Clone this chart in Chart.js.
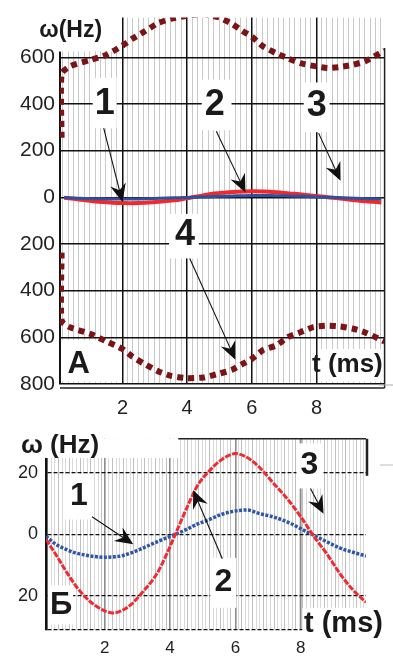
<!DOCTYPE html>
<html>
<head>
<meta charset="utf-8">
<script src="https://cdn.jsdelivr.net/npm/chart.js@4"></script>
<style>
  body { margin: 0; background: #fff; width: 393px; height: 659px; overflow: hidden; position: relative; }
  #wrapA { position: absolute; left: 0; top: 0; }
  #wrapB { position: absolute; left: 0; top: 420px; }
</style>
</head>
<body>
<div id="wrapA"><canvas id="chartA" width="393" height="420"></canvas></div>
<div id="wrapB"><canvas id="chartB" width="393" height="239"></canvas></div>
<script>
// time (ms) for curves 1-3
var times = [0.2, 0.5, 0.8, 1.1, 1.4, 1.7, 2.0, 2.25, 2.5, 2.8, 3.15, 3.6, 3.9, 4.2, 4.5, 4.85,
  5.15, 5.55, 6.0, 6.35, 6.75, 7.15, 7.6, 8.05, 8.4, 8.8, 9.2, 9.6, 10.0];
// curve 2 (red), Hz
var omegaRed = [-1.6, -6.5, -11.7, -16.5, -20.3, -23, -24.8, -25.5, -24.8, -22.8, -18.8, -12.7, -6.3, 1,
  8.3, 16, 20, 24, 26.2, 25, 21.6, 16.8, 11.4, 5, -0.6, -6.3, -12.7, -18, -22];
// curve 1 (blue), Hz
var omegaBlue = [-0.6, -3.2, -4.8, -6, -6.7, -7.2, -7.4, -7.3, -7, -6, -4.5, -2.4, -1.1, 0.2,
  1.6, 3.4, 4.6, 6.4, 7.6, 7.9, 6.7, 5.7, 4, 1.6, -0.3, -2.4, -4.4, -5.8, -7];
// curve 4 : envelope of the fast oscillation (panel A)
var envTimes = [0.12, 0.12, 0.4, 1.0, 1.5, 2.0, 2.3, 2.65, 3.1, 3.5, 4.0, 4.5, 5.0, 5.4, 5.7, 6.0,
  6.35, 6.75, 7.1, 7.5, 7.9, 8.35, 8.7, 9.1, 9.5, 10.1];
var envUpper = [255, 530, 563, 588, 610, 650, 679, 708, 746, 765, 778, 785, 770, 742, 713, 688,
  646, 617, 596, 575, 563, 554, 558, 567, 583, 629];
var envLower = [-237, -529, -558, -585, -617, -650, -682, -712, -745, -765, -775, -772, -755, -738, -715, -692,
  -654, -635, -600, -578, -556, -550, -553, -562, -579, -618];

var tickT = [2, 4, 6, 8];
var tickA = [-800, -600, -400, -200, 0, 200, 400, 600];
var tickB = [-31, -20, 0, 20];

var FONT = "'Liberation Sans', Arial, sans-serif";

function pts(xs, ys) {
  return xs.map(function (x, i) { return { x: x, y: ys[i] }; });
}
function isMajor(v) { return tickT.indexOf(v) >= 0; }
function gridTicks(scale, step) {
  var list = tickT.map(function (v) { return { value: v }; });
  for (var v = scale.min + step / 2; v < scale.max; v += step) {
    if (tickT.every(function (m) { return Math.abs(m - v) > step / 3; })) list.push({ value: v });
  }
  list.sort(function (a, b) { return a.value - b.value; });
  scale.ticks = list;
}

function drawArrow(ctx, x1, y1, x2, y2) {
  var a = Math.atan2(y2 - y1, x2 - x1);
  ctx.save();
  ctx.strokeStyle = '#111';
  ctx.fillStyle = '#111';
  ctx.lineWidth = 1.1;
  ctx.beginPath();
  ctx.moveTo(x1, y1);
  ctx.lineTo(x2 - 10 * Math.cos(a), y2 - 10 * Math.sin(a));
  ctx.stroke();
  ctx.translate(x2, y2);
  ctx.rotate(a);
  ctx.beginPath();
  ctx.moveTo(0, 0);
  ctx.lineTo(-18, -8);
  ctx.lineTo(-12, 0);
  ctx.lineTo(-18, 8);
  ctx.closePath();
  ctx.fill();
  ctx.restore();
}

// labels, white boxes and arrows, placed in data units
function notesPlugin(notes, frame) {
  return {
    id: 'notes',
    beforeDatasetsDraw: function (chart) {
      var ctx = chart.ctx, x = chart.scales.x, y = chart.scales.y;
      ctx.save();
      ctx.fillStyle = '#fff';
      notes.forEach(function (n) {
        if (!n.box) return;
        var x0 = x.getPixelForValue(n.box[0]), x1 = x.getPixelForValue(n.box[1]);
        var y0 = y.getPixelForValue(n.box[2]), y1 = y.getPixelForValue(n.box[3]);
        ctx.fillRect(x0, y0, x1 - x0, y1 - y0);
      });
      ctx.restore();
    },
    afterDraw: function (chart) {
      var ctx = chart.ctx, x = chart.scales.x, y = chart.scales.y;
      frame(chart);
      ctx.save();
      ctx.fillStyle = '#1a1a1a';
      ctx.textAlign = 'center';
      ctx.textBaseline = 'middle';
      notes.forEach(function (n) {
        ctx.font = 'bold ' + n.size + 'px ' + FONT;
        ctx.fillText(n.text, x.getPixelForValue(n.t), y.getPixelForValue(n.w));
        if (n.arrow) {
          drawArrow(ctx, x.getPixelForValue(n.arrow[0]), y.getPixelForValue(n.arrow[1]),
            x.getPixelForValue(n.arrow[2]), y.getPixelForValue(n.arrow[3]));
        }
      });
      ctx.restore();
    }
  };
}

var notesA = [
  { text: 'ω(Hz)', t: 0.4, w: 712, size: 23, box: [0.07, 1.85, 771, 625] },
  { text: '1', t: 1.45, w: 400, size: 36, box: [1.08, 1.82, 512, 296], arrow: [1.42, 296, 2.0, -20] },
  { text: '2', t: 4.85, w: 395, size: 36, box: [4.45, 5.37, 504, 287], arrow: [4.9, 283, 5.8, 21] },
  { text: '3', t: 8.0, w: 390, size: 36, box: [7.6, 8.4, 492, 279], arrow: [8.06, 275, 8.74, 71] },
  { text: '4', t: 3.93, w: -160, size: 36, box: [3.44, 4.36, -71, -262], arrow: [4.08, -262, 5.49, -696] },
  { text: 'А', t: 0.65, w: -717, size: 31, box: [0.1, 1.95, -612, -790] },
  { text: 't (ms)', t: 8.95, w: -717, size: 26, box: [8.06, 10.1, -650, -790] }
];

var notesB = [
  { text: 'ω (Hz)', t: 0.63, w: 28.6, size: 26, box: [0.2, 4.25, 31, 24.8] },
  { text: '1', t: 1.21, w: 12.4, size: 32, box: [0.78, 1.64, 19.6, 4.8], arrow: [1.61, 5.7, 2.87, -3.2] },
  { text: '2', t: 5.63, w: -15.6, size: 32, box: [5.23, 6.03, -7.6, -23.8], arrow: [5.6, -7.9, 4.71, 14.3] },
  { text: '3', t: 8.27, w: 22.5, size: 32, box: [7.87, 8.67, 29.5, 14.9], arrow: [8.3, 14.9, 8.7, 6.7] },
  { text: 'Б', t: 0.66, w: -22.9, size: 31, box: [0.26, 1.03, -16.5, -29.2] },
  { text: 't (ms)', t: 9.31, w: -29.2, size: 29, box: [8.05, 10.63, -23.8, -34.6] }
];

// panel A
new Chart(document.getElementById('chartA'), {
  type: 'line',
  data: {
    datasets: [
      { label: '4', data: pts(envTimes, envUpper), borderColor: '#7a1416', borderWidth: 6,
        borderDash: [6, 5], borderCapStyle: 'butt', pointRadius: 0, tension: 0.2, order: 0 },
      { label: '4', data: pts(envTimes, envLower), borderColor: '#7a1416', borderWidth: 6,
        borderDash: [6, 5], borderCapStyle: 'butt', pointRadius: 0, tension: 0.2, order: 0 },
      { label: '1', data: pts(times, omegaBlue), borderColor: '#2f4f9f', borderWidth: 3,
        pointRadius: 0, tension: 0.4, order: 1 },
      { label: '2', data: pts(times, omegaRed), borderColor: '#ef2a2e', borderWidth: 4,
        pointRadius: 0, tension: 0.4, order: 2 }
    ]
  },
  options: {
    responsive: false,
    animation: false,
    events: [],
    layout: { padding: { top: 8, right: 6, left: 0, bottom: 0 } },
    plugins: { legend: { display: false }, tooltip: { enabled: false } },
    scales: {
      x: {
        type: 'linear', min: 0.07, max: 10.1,
        afterFit: function (s) { s.height = 36; },
        afterBuildTicks: function (s) { gridTicks(s, 1 / 6); },
        ticks: {
          autoSkip: false, maxRotation: 0, padding: 12, color: '#222',
          font: { size: 20, family: FONT },
          callback: function (v) { return isMajor(v) ? String(v) : ''; }
        },
        grid: {
          drawTicks: false,
          color: function (c) { return c.tick && isMajor(c.tick.value) ? '#111' : 'rgba(165,165,165,0.6)'; },
          lineWidth: function (c) { return c.tick && isMajor(c.tick.value) ? 1.5 : 1; }
        },
        border: { display: false }
      },
      y: {
        min: -800, max: 770,
        afterFit: function (s) { s.width = 60; },
        afterBuildTicks: function (s) { s.ticks = tickA.map(function (v) { return { value: v }; }); },
        ticks: {
          padding: 5, color: '#222', font: { size: 21, family: FONT },
          callback: function (v) { return String(Math.abs(v)); }
        },
        grid: { drawTicks: false, color: '#111', lineWidth: 1.5 },
        border: { color: '#111', width: 2 }
      }
    }
  },
  plugins: [notesPlugin(notesA, function (chart) {
    var ctx = chart.ctx, a = chart.chartArea, y = chart.scales.y;
    ctx.save();
    ctx.fillStyle = '#fff';
    ctx.fillRect(a.left - 2, a.top - 8, 4, y.getPixelForValue(625) - a.top + 8);
    ctx.strokeStyle = '#222';
    ctx.lineWidth = 1.5;
    ctx.beginPath();
    ctx.moveTo(a.right, y.getPixelForValue(640));
    ctx.lineTo(a.right, a.bottom + 4);
    ctx.moveTo(a.left, a.bottom + 4);
    ctx.lineTo(a.right, a.bottom + 4);
    ctx.stroke();
    ctx.strokeStyle = '#aaa';
    ctx.lineWidth = 1;
    ctx.beginPath();
    ctx.moveTo(a.right - 6, a.bottom + 1);
    ctx.lineTo(393, a.bottom + 1);
    ctx.stroke();
    ctx.restore();
  })]
});

// panel Б
new Chart(document.getElementById('chartB'), {
  type: 'line',
  data: {
    datasets: [
      { label: '1', data: pts(times, omegaBlue), borderColor: '#2f55a8', borderWidth: 3.5,
        borderDash: [3, 1.5], pointRadius: 0, cubicInterpolationMode: 'monotone', order: 1 },
      { label: '2', data: pts(times, omegaRed), borderColor: '#ef2a31', borderWidth: 3,
        borderDash: [6, 1.5], pointRadius: 0, cubicInterpolationMode: 'monotone', order: 0 }
    ]
  },
  options: {
    responsive: false,
    animation: false,
    events: [],
    layout: { padding: { top: 16, right: 27, left: 0, bottom: 0 } },
    plugins: { legend: { display: false }, tooltip: { enabled: false } },
    scales: {
      x: {
        type: 'linear', min: 0.2, max: 10.0,
        afterFit: function (s) { s.height = 29; },
        afterBuildTicks: function (s) { gridTicks(s, 0.11); },
        ticks: {
          autoSkip: false, maxRotation: 0, padding: 8, color: '#222',
          font: { size: 17, family: FONT },
          callback: function (v) { return isMajor(v) ? String(v) : ''; }
        },
        grid: {
          drawTicks: false,
          color: function (c) {
            if (c.tick && isMajor(c.tick.value)) return '#8c8c8c';
            return c.index % 3 === 0 ? 'rgba(140,140,140,0.55)' : 'rgba(185,185,185,0.55)';
          },
          lineWidth: function (c) { return c.tick && isMajor(c.tick.value) ? 1.6 : 1; }
        },
        border: { display: false }
      },
      y: {
        min: -31, max: 31,
        afterFit: function (s) { s.width = 46; },
        afterBuildTicks: function (s) { s.ticks = tickB.map(function (v) { return { value: v }; }); },
        ticks: {
          padding: 8, color: '#222', font: { size: 18, family: FONT },
          callback: function (v) { return v === -31 ? '' : String(Math.abs(v)); }
        },
        grid: { drawTicks: false, color: '#111', lineWidth: 1.3 },
        border: { color: '#111', width: 2.5, dash: [4, 2] }
      }
    }
  },
  plugins: [notesPlugin(notesB, function (chart) {
    var ctx = chart.ctx, a = chart.chartArea, x = chart.scales.x, y = chart.scales.y;
    ctx.save();
    ctx.fillStyle = '#fff';
    ctx.fillRect(a.left - 3, a.top - 2, 6, y.getPixelForValue(24.8) - a.top + 2);
    ctx.strokeStyle = '#222';
    ctx.lineWidth = 1.5;
    ctx.beginPath();
    ctx.moveTo(x.getPixelForValue(4.25), a.top);
    ctx.lineTo(a.right, a.top);
    ctx.stroke();
    ctx.lineWidth = 2.5;
    ctx.beginPath();
    ctx.moveTo(a.right + 1, a.top);
    ctx.lineTo(a.right + 1, y.getPixelForValue(19));
    ctx.stroke();
    ctx.strokeStyle = '#bbb';
    ctx.lineWidth = 1;
    ctx.beginPath();
    ctx.moveTo(a.right + 14, y.getPixelForValue(22.5));
    ctx.lineTo(393, y.getPixelForValue(22.5));
    ctx.stroke();
    ctx.restore();
  })]
});
</script>
</body>
</html>
